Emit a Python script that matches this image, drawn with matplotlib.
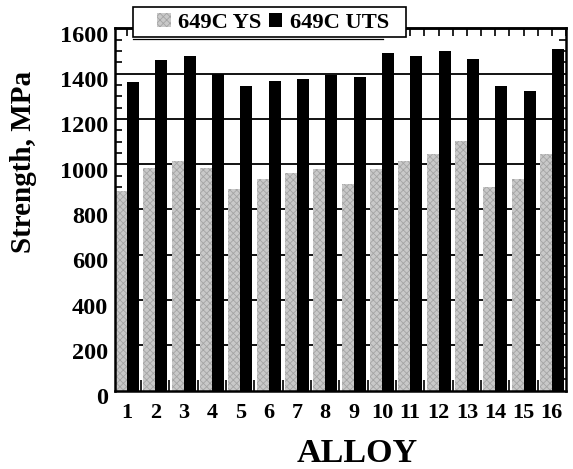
"""
Yield and ultimate tensile strength at 649C for sixteen alloys.
"""

import numpy as np
import matplotlib.pyplot as plt
from matplotlib.lines import Line2D
from matplotlib.patches import Rectangle
from matplotlib.ticker import MultipleLocator, FixedLocator
from matplotlib.transforms import ScaledTranslation

alloys = list(range(1, 17))
ys_649 = [880, 984, 1012, 984, 889, 934, 963, 977, 911, 977, 1012, 1047, 1102, 900, 934, 1047]
uts_649 = [1361, 1458, 1477, 1400, 1344, 1369, 1374, 1394, 1385, 1491, 1477, 1499, 1465, 1344, 1324, 1508]

plt.rcParams["font.family"] = ["Liberation Serif", "DejaVu Serif"]
plt.rcParams["font.weight"] = "bold"
plt.rcParams["hatch.linewidth"] = 0.6

W, H = 573, 469
fig = plt.figure(figsize=(W / 100, H / 100), dpi=100)
ax = fig.add_axes([0.2007, 0.167, 0.7871, 0.7727])

x = np.array(alloys, dtype=float)
w = 0.424
ax.bar(x - w / 2, ys_649, width=w, color="#c9c9c9", edgecolor="#a4a4a4",
       hatch="xxxxx", linewidth=0, zorder=3, label="649C YS")
ax.bar(x + w / 2, uts_649, width=w, color="black", linewidth=0,
       zorder=3, label="649C UTS")

ax.set_xlim(0.576, 16.5)
ax.set_ylim(0, 1600)

# horizontal gridlines sit behind the bars
for yv in range(200, 1600, 200):
    ax.axhline(yv, color="black", lw=1.3, zorder=1)

for s in ax.spines.values():
    s.set_linewidth(1.8)
    s.set_zorder(4)

ax.yaxis.set_major_locator(MultipleLocator(200))
ax.yaxis.set_minor_locator(MultipleLocator(50))
ax.tick_params(axis="y", which="major", direction="in", length=0,
               labelsize=17.5, pad=5, right=True)
ax.tick_params(axis="y", which="minor", direction="in", length=5,
               width=1.2, right=True)
for lab in ax.get_yticklabels():
    lab.set_fontweight("bold")
    lab.set_transform(lab.get_transform() + ScaledTranslation(0, -4 / 72, fig.dpi_scale_trans))

ax.xaxis.set_major_locator(FixedLocator(alloys))
ax.set_xticklabels([str(a) for a in alloys], fontsize=16, fontweight="bold")
ax.tick_params(axis="x", which="major", length=0, pad=9)
ax.xaxis.set_minor_locator(FixedLocator(np.arange(1.5, 16, 1.0)))
ax.tick_params(axis="x", which="minor", direction="in", length=8,
               width=1.2, top=False, bottom=True)

# half-step ticks along the top edge
top = ax.secondary_xaxis("top")
top.set_xticks(np.arange(1.0, 16.6, 0.5))
top.set_xticklabels([])
top.tick_params(direction="in", length=6, width=1.2)
top.spines["top"].set_linewidth(1.8)

ax.set_xlabel("ALLOY", fontsize=24.5, fontweight="bold")
ax.xaxis.set_label_coords(0.537, -0.13)
ax.set_ylabel("Strength, MPa", fontsize=21, fontweight="bold")
ax.yaxis.set_label_coords(-0.173, 0.632)

# legend box straddling the top edge, with a thin underline below it
fig.patches.append(Rectangle((133 / W, 1 - 37.5 / H), 273 / W, 30.5 / H,
                             transform=fig.transFigure, facecolor="white",
                             edgecolor="black", linewidth=1.2, zorder=4))
fig.lines.append(Line2D([133 / W, 383 / W], [1 - 39.5 / H] * 2,
                        transform=fig.transFigure, color="black", lw=0.9))
fig.legend(loc="center left", bbox_to_anchor=(157 / W, 1 - 23 / H), ncol=2,
           fontsize=16.2, frameon=False, handlelength=0.6, handleheight=0.55,
           handletextpad=0.32, columnspacing=0.35, borderpad=0,
           borderaxespad=0)

fig.savefig("out.png", dpi=100)
